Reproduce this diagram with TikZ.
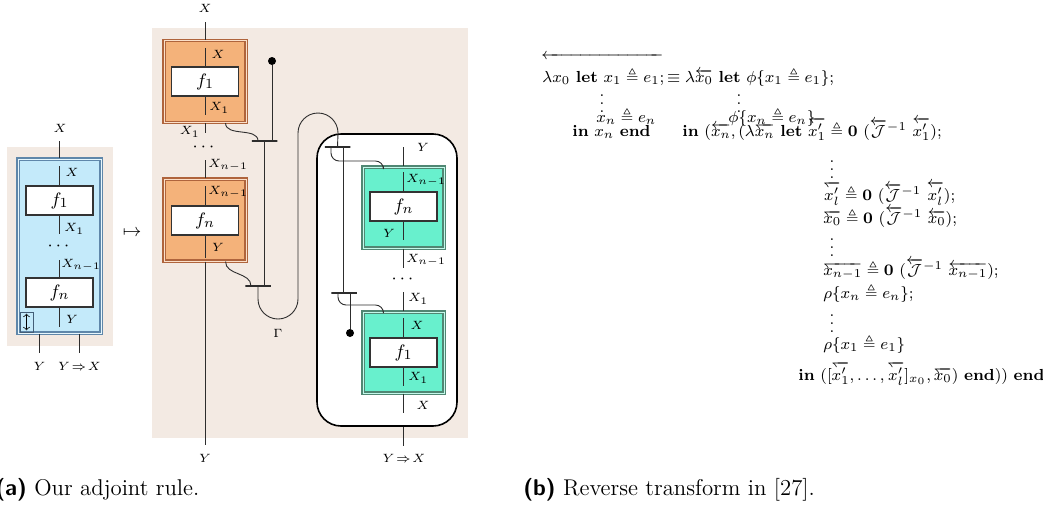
\documentclass[tikz,border=0pt]{standalone}
\usepackage{amsmath,amssymb}
\usepackage{tikz}
\usetikzlibrary{positioning}
\definecolor{paper}{RGB}{243,234,227}
\definecolor{skyfill}{RGB}{196,234,250}
\definecolor{skyedge}{RGB}{95,135,170}
\definecolor{orfill}{RGB}{244,178,122}
\definecolor{oredge}{RGB}{175,100,60}
\definecolor{mintfill}{RGB}{104,240,205}
\definecolor{mintedge}{RGB}{80,135,115}
\definecolor{wirec}{RGB}{45,45,45}
\makeatletter
\newcommand{\lhpfill@}{\arrowfill@\leftharpoondown\relbar\relbar}
\newcommand{\olh}{\mathpalette{\overarrow@\lhpfill@}}
\makeatother

\begin{document}
\begin{tikzpicture}[x=0.5pt, y=-0.5pt,
    wire/.style={draw=wirec, line width=0.45pt},
    tee/.style={rectangle, draw=wirec, line width=0.8pt, minimum width=12.75pt,
                minimum height=0pt, inner sep=0pt},
    fnbox/.style={rectangle, draw=black!80, line width=0.6pt, fill=white,
                  minimum width=33.5pt, minimum height=14.5pt, inner sep=0pt,
                  font=\fontsize{9.5}{10}\selectfont},
    wrapbox/.style={rectangle, line width=0.55pt, double distance=0.5pt,
                    minimum width=41pt, minimum height=41pt, inner sep=0pt},
    skybox/.style={wrapbox, draw=skyedge, double=white!60!skyfill, fill=skyfill,
                   minimum width=41.5pt, minimum height=87pt},
    orbox/.style={wrapbox, draw=oredge, double=white!60!orfill, fill=orfill},
    mintbox/.style={wrapbox, draw=mintedge, double=white!60!mintfill, fill=mintfill,
                    minimum width=40.5pt, minimum height=40.5pt},
    holdbox/.style={rectangle, rounded corners=12pt, draw=black, line width=0.8pt,
                    fill=white, minimum width=70pt, minimum height=146pt, inner sep=0pt},
    lbl/.style={inner sep=0pt, font=\fontsize{6.2}{7}\selectfont},
    dotsl/.style={inner sep=0pt, font=\fontsize{9.5}{10}\selectfont},
    blob/.style={circle, fill=black, inner sep=0pt, minimum size=4pt},
    formula/.style={anchor=base west, inner sep=0pt, font=\fontsize{8}{10}\selectfont},
    capt/.style={anchor=base west, inner sep=0pt, font=\fontsize{11.4}{13}\selectfont}
  ]
  \useasboundingbox (0,0) rectangle (1043,504);

  % (a) left
  \fill[paper] (7,147) rectangle (113,346);
  \node[skybox] (sky) at (59.5,246) {};
  \node[fnbox] (skyfa) at (59.5,200.5) {$f_1$};
  \node[fnbox] (skyfb) at (59.5,292.5) {$f_n$};
  \node[rectangle, draw=skyedge!70!black, line width=0.35pt, minimum width=6.5pt,
        minimum height=10pt, inner sep=0pt] (swap) at (26.5,322) {};
  \draw[<->, >=to, line width=0.35pt] ([yshift=-1pt]swap.north) -- ([yshift=1pt]swap.south);
  \coordinate (skyin) at (59.5,141);
  \draw[wire] (skyin) -- (sky.north);
  \draw[wire] ([yshift=-4pt]sky.north) -- (skyfa.north);
  \draw[wire] (skyfa.south) -- ++(0,18);
  \draw[wire] ([yshift=8.5pt]skyfb.north) -- (skyfb.north);
  \draw[wire] (skyfb.south) -- ++(0,19);
  \draw[wire] ([xshift=-10pt]sky.south) -- ++(0,19);
  \draw[wire] ([xshift=10pt]sky.south) -- ++(0,19);
  \node[dotsl] (skydots) at (60,246) {$\cdots$};
  \node[lbl] (skylx) at (60,128) {$X$};
  \node[lbl] (skylxi) at (72,172) {$X$};
  \node[lbl, anchor=west] (skylxa) at (64,229) {$X_1$};
  \node[lbl, anchor=west] (skylxn) at (61,265) {$X_{n-1}$};
  \node[lbl] (skyly) at (72,319) {$Y$};
  \node[lbl] (skyouta) at (39.5,366) {$Y$};
  \node[lbl] (skyoutb) at (79.5,366) {$Y\mskip2mu{\Rightarrow}\mskip2mu X$};
  \node[dotsl] (mapsto) at (132,233) {$\mapsto$};

  % (a) right
  \fill[paper] (152,28) rectangle (468,438);
  \node[holdbox] (hold) at (387,280) {};
  \node[orbox] (ora) at (205,81.5) {};
  \node[fnbox] (orfa) at (205,81.5) {$f_1$};
  \node[orbox] (orb) at (205,220) {};
  \node[fnbox] (orfb) at (205,220.5) {$f_n$};
  \coordinate (orin) at (205,22);
  \coordinate (orout) at (205,445);
  \draw[wire] (orin) -- (ora.north);
  \draw[wire] ([yshift=-4pt]ora.north) -- (orfa.north);
  \draw[wire] (orfa.south) -- ++(0,18);
  \draw[wire] (ora.south) -- ++(0,10);
  \draw[wire] ([yshift=9pt]orb.north) -- (orb.north);
  \draw[wire] ([yshift=-4pt]orb.north) -- (orfb.north);
  \draw[wire] (orfb.south) -- ++(0,22);
  \draw[wire] (orb.south) -- (orout);
  \node[dotsl] (ordots) at (205,147) {$\cdots$};
  \node[lbl] (orlx) at (205,8) {$X$};
  \node[lbl] (orlxi) at (218,54) {$X$};
  \node[lbl, anchor=west] (orlxai) at (209,108) {$X_1$};
  \node[lbl, anchor=east] (orlxa) at (200,132) {$X_1$};
  \node[lbl, anchor=west] (orlxn) at (208,165) {$X_{n-1}$};
  \node[lbl, anchor=west] (orlxni) at (208,192) {$X_{n-1}$};
  \node[lbl] (orlyi) at (218,247) {$Y$};
  \node[lbl] (orly) at (205,458) {$Y$};

  \node[tee] (ja) at (264.5,141) {};
  \node[tee] (jb) at (258,286) {};
  \node[tee] (jc) at (337.5,147) {};
  \node[tee] (jd) at (344,293) {};
  \node[blob] (dota) at (272,61) {};
  \node[blob] (dotb) at (350,333) {};
  \draw[wire] (dota) -- (dota |- ja.center);
  \draw[wire] ([xshift=-10.5pt]ora.south east) .. controls +(0,14) and +(0,-14) .. ([xshift=-3.25pt]ja.center);
  \draw[wire] (ja.center) -- (ja.center |- jb.center);
  \draw[wire] ([xshift=-10.5pt]orb.south east) .. controls +(0,14) and +(0,-14) .. ([xshift=-3.5pt]jb.center);
  \draw[wire] (jb.center) -- ++(0,13) arc[start angle=180, end angle=360, radius=10pt]
    -- ++(0,-166) arc[start angle=180, end angle=0, radius=10pt] -- (jc.center);
  \draw[wire] ([xshift=2.75pt]jc.center) -- ([xshift=2.75pt]jc.center |- jd.center);
  \node[lbl] (gamma) at (278,333) {$\Gamma$};

  \node[mintbox] (mna) at (403.5,207.5) {};
  \node[fnbox] (mnfa) at (403.5,206.5) {$f_n$};
  \node[mintbox] (mnb) at (403.5,352.5) {};
  \node[fnbox] (mnfb) at (403.5,352.5) {$f_1$};
  \draw[wire, rounded corners=4pt] ([xshift=-3.25pt]jc.center) -- ++(0,14) -| ([xshift=10.5pt]mna.north west);
  \draw[wire, rounded corners=4pt] ([xshift=-3pt]jd.center) -- ++(0,12) -| ([xshift=10.5pt]mnb.north west);
  \draw[wire] ([xshift=3pt]jd.center) -- (dotb);
  \coordinate (mnin) at (403.5,147);
  \draw[wire] (mnin) -- (mna.north);
  \draw[wire] ([yshift=-3pt]mna.north) -- (mnfa.north);
  \draw[wire] (mnfa.south) -- ++(0,18);
  \draw[wire] (mna.south) -- ++(0,19);
  \draw[wire] ([yshift=9.5pt]mnb.north) -- (mnb.north);
  \draw[wire] ([yshift=-3.5pt]mnb.north) -- (mnfb.north);
  \draw[wire] (mnfb.south) -- ++(0,18);
  \draw[wire] (mnb.south) -- ++(0,19);
  \draw[wire] (mnb.south |- hold.south) -- ++(0,19);
  \node[dotsl] (mndots) at (404,279) {$\cdots$};
  \node[lbl] (mnly) at (423,147) {$Y$};
  \node[lbl, anchor=west] (mnlxn) at (406,180) {$X_{n-1}$};
  \node[lbl] (mnlyi) at (389,233) {$Y$};
  \node[lbl, anchor=west] (mnlxno) at (406,260) {$X_{n-1}$};
  \node[lbl, anchor=west] (mnlxa) at (408,299) {$X_1$};
  \node[lbl] (mnlxi) at (417,325) {$X$};
  \node[lbl, anchor=west] (mnlxai) at (408,378) {$X_1$};
  \node[lbl] (mnlx) at (423,405) {$X$};
  \node[lbl] (mnout) at (404,458) {$Y\mskip2mu{\Rightarrow}\mskip2mu X$};

  % (b)
  \node[formula] (revbar) at (541,59) {$\overleftarrow{\hphantom{\lambda x_0\ \mathbf{let}\ x_1 \triangleq e_1;}}$};
  \node[formula] (rowa) at (542,82) {$\lambda x_0\ \mathbf{let}\ x_1 \triangleq e_1; \equiv \lambda\overleftarrow{x_0}\ \mathbf{let}\ \phi\{x_1 \triangleq e_1\};$};
  \node[formula, anchor=center] (vda) at (602,98) {$\vdots$};
  \node[formula, anchor=center] (vdb) at (739,98) {$\vdots$};
  \node[formula] (rowbl) at (596,122) {$x_n \triangleq e_n$};
  \node[formula] (rowbr) at (728,122) {$\phi\{x_n \triangleq e_n\}$};
  \node[formula] (rowcl) at (572,136) {$\mathbf{in}\ x_n\ \mathbf{end}$};
  \node[formula] (rowcr) at (682,136) {$\mathbf{in}\ (\overleftarrow{x_n}, (\lambda\olh{x_n}\ \mathbf{let}\ \olh{x'_1} \triangleq \mathbf{0}\ (\overleftarrow{\mathcal{J}}^{-1}\ \overleftarrow{x'_1});$};
  \node[formula, anchor=center] (vdc) at (832,164) {$\vdots$};
  \node[formula] (rowd) at (823,200) {$\olh{x'_l} \triangleq \mathbf{0}\ (\overleftarrow{\mathcal{J}}^{-1}\ \overleftarrow{x'_l});$};
  \node[formula] (rowe) at (823,223) {$\olh{x_0} \triangleq \mathbf{0}\ (\overleftarrow{\mathcal{J}}^{-1}\ \overleftarrow{x_0});$};
  \node[formula, anchor=center] (vdd) at (832,242) {$\vdots$};
  \node[formula] (rowf) at (823,275) {$\olh{x_{n-1}} \triangleq \mathbf{0}\ (\overleftarrow{\mathcal{J}}^{-1}\ \overleftarrow{x_{n-1}});$};
  \node[formula] (rowg) at (823,298) {$\rho\{x_n \triangleq e_n\};$};
  \node[formula, anchor=center] (vde) at (832,318) {$\vdots$};
  \node[formula] (rowh) at (823,349) {$\rho\{x_1 \triangleq e_1\}$};
  \node[formula] (rowi) at (798,380) {$\mathbf{in}\ ([\olh{x'_1}, \ldots, \olh{x'_l}]_{x_0}, \olh{x_0})\ \mathbf{end}))\ \mathbf{end}$};

  % captions
  \node[capt] (capa) at (-5,495) {\textsf{\textbf{(a)}} Our adjoint rule.};
  \node[capt] (capb) at (523,495) {\textsf{\textbf{(b)}} Reverse transform in [27].};
\end{tikzpicture}
\end{document}
